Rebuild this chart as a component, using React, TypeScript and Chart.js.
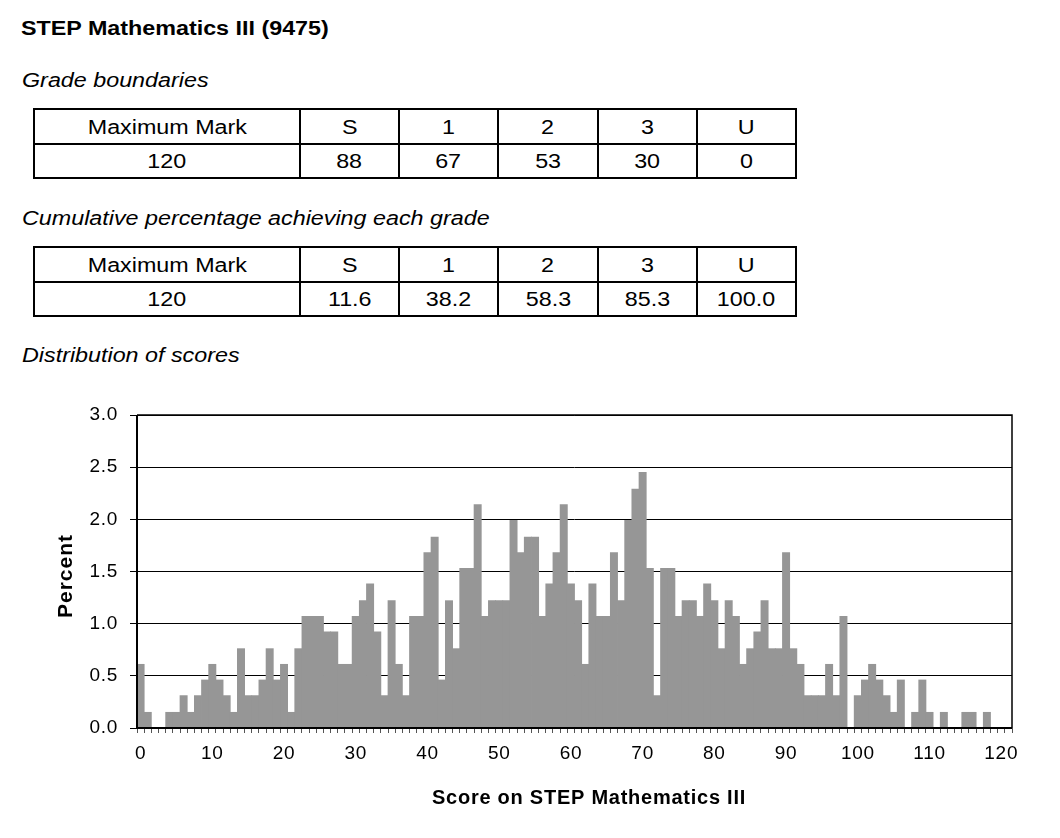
import React, { useEffect, useRef } from 'react';
import { Chart, registerables } from 'chart.js';

Chart.register(...registerables);

const FONT = '"Liberation Sans", Arial, Helvetica, sans-serif';
const STRETCH = 1.165;

const pageTitle = 'STEP Mathematics III (9475)';
const boundariesHeading = 'Grade boundaries';
const cumulativeHeading = 'Cumulative percentage achieving each grade';
const distributionHeading = 'Distribution of scores';

const gradeHeaders = ['Maximum Mark', 'S', '1', '2', '3', 'U'];
const gradeBoundaries = ['120', '88', '67', '53', '30', '0'];
const cumulativePercent = ['120', '11.6', '38.2', '58.3', '85.3', '100.0'];

// Scores 0..121 (one category per mark)
const scoreCategories = Array.from({ length: 122 }, (_, i) => String(i));

// Percent of candidates at each score
const percentOfCandidates = [
  0.61, 0.15, 0, 0, 0.15, 0.15, 0.31, 0.15, 0.31, 0.46,
  0.61, 0.46, 0.31, 0.15, 0.76, 0.31, 0.31, 0.46, 0.76, 0.46,
  0.61, 0.15, 0.76, 1.07, 1.07, 1.07, 0.92, 0.92, 0.61, 0.61,
  1.07, 1.22, 1.38, 0.92, 0.31, 1.22, 0.61, 0.31, 1.07, 1.07,
  1.68, 1.83, 0.46, 1.22, 0.76, 1.53, 1.53, 2.14, 1.07, 1.22,
  1.22, 1.22, 1.99, 1.68, 1.83, 1.83, 1.07, 1.38, 1.68, 2.14,
  1.38, 1.22, 0.61, 1.38, 1.07, 1.07, 1.68, 1.22, 1.99, 2.29,
  2.45, 1.53, 0.31, 1.53, 1.53, 1.07, 1.22, 1.22, 1.07, 1.38,
  1.22, 0.76, 1.22, 1.07, 0.61, 0.76, 0.92, 1.22, 0.76, 0.76,
  1.68, 0.76, 0.61, 0.31, 0.31, 0.31, 0.61, 0.31, 1.07, 0,
  0.31, 0.46, 0.61, 0.46, 0.31, 0.15, 0.46, 0, 0.15, 0.46,
  0.15, 0, 0.15, 0, 0, 0.15, 0.15, 0, 0.15, 0, 0, 0,
];

const xTickLabels = ['0', '10', '20', '30', '40', '50', '60', '70', '80', '90', '100', '110', '120'];
const xAxisTitle = 'Score on STEP Mathematics III';
const yAxisTitle = 'Percent';

const colEdges = [34, 300, 399, 498, 598, 697, 796];

function Heading({ text, left, top, bold, italic }: { text: string; left: number; top: number; bold?: boolean; italic?: boolean }) {
  return (
    <div
      style={{
        position: 'absolute',
        left,
        top,
        fontFamily: FONT,
        fontSize: 20,
        lineHeight: '20px',
        fontWeight: bold ? 'bold' : 'normal',
        fontStyle: italic ? 'italic' : 'normal',
        whiteSpace: 'nowrap',
        transform: `scaleX(${STRETCH})`,
        transformOrigin: '0 0',
        color: '#000',
      }}
    >
      {text}
    </div>
  );
}

function GradeTable({ rows, top }: { rows: string[][]; top: number }) {
  const rowEdges = [top, top + 35, top + 69];
  const cells: React.ReactNode[] = [];
  rows.forEach((row, r) => {
    row.forEach((txt, c) => {
      cells.push(
        <div
          key={`${r}-${c}`}
          style={{
            position: 'absolute',
            left: colEdges[c] - 1,
            top: rowEdges[r] - 1,
            width: colEdges[c + 1] - colEdges[c] + 2,
            height: rowEdges[r + 1] - rowEdges[r] + 2,
            boxSizing: 'border-box',
            border: '2px solid #000',
            display: 'flex',
            alignItems: 'center',
            justifyContent: 'center',
            fontFamily: FONT,
            fontSize: 20,
            lineHeight: '20px',
            color: '#000',
          }}
        >
          <span style={{ display: 'inline-block', transform: `scaleX(${STRETCH})`, whiteSpace: 'nowrap' }}>{txt}</span>
        </div>
      );
    });
  });
  return <>{cells}</>;
}

const framePlugin = {
  id: 'frame',
  beforeDraw(chart: any) {
    chart.ctx.letterSpacing = '0.7px';
  },
  afterDatasetsDraw(chart: any) {
    const { ctx, chartArea } = chart;
    const { left, right, top, bottom } = chartArea;
    ctx.save();
    ctx.strokeStyle = '#000';
    ctx.lineWidth = 1.5;
    ctx.beginPath();
    ctx.moveTo(left, top);
    ctx.lineTo(right, top);
    ctx.lineTo(right, bottom);
    ctx.stroke();
    ctx.lineWidth = 2;
    ctx.beginPath();
    ctx.moveTo(left, top);
    ctx.lineTo(left, bottom);
    ctx.lineTo(right, bottom);
    ctx.stroke();
    ctx.restore();
  },
  afterDraw(chart: any) {
    const { ctx } = chart;
    ctx.save();
    ctx.fillStyle = '#000';
    ctx.textAlign = 'center';
    ctx.textBaseline = 'middle';
    ctx.letterSpacing = '0.75px';
    ctx.font = `bold 20px ${FONT}`;
    ctx.fillText(xAxisTitle, 589, 413);
    ctx.translate(66, 191);
    ctx.rotate(-Math.PI / 2);
    ctx.letterSpacing = '1px';
    ctx.font = `bold 21px ${FONT}`;
    ctx.fillText(yAxisTitle, 0, 0);
    ctx.restore();
  },
};

function DistributionChart() {
  const ref = useRef<HTMLCanvasElement | null>(null);
  useEffect(() => {
    if (!ref.current) return;
    const chart = new Chart(ref.current, {
      type: 'bar',
      data: {
        labels: scoreCategories,
        datasets: [
          {
            data: percentOfCandidates,
            backgroundColor: '#969696',
            borderWidth: 0,
            barPercentage: 1,
            categoryPercentage: 1,
            inflateAmount: 0.4,
          } as any,
        ],
      },
      options: {
        responsive: false,
        animation: false,
        layout: { padding: { left: 0, right: 48, top: 30, bottom: 0 } },
        plugins: {
          legend: { display: false },
          tooltip: { enabled: false },
          title: { display: false },
        },
        scales: {
          x: {
            type: 'category',
            grid: {
              display: true,
              drawOnChartArea: false,
              drawTicks: true,
              tickLength: 5,
              color: '#555',
              lineWidth: 1,
              offset: true,
            },
            border: { display: false },
            ticks: {
              autoSkip: false,
              maxRotation: 0,
              minRotation: 0,
              padding: 9,
              color: '#000',
              font: { family: FONT, size: 19 },
              callback: (_v: any, idx: number) => {
                const l = scoreCategories[idx];
                return xTickLabels.includes(l) ? l : '';
              },
            },
            afterFit: (s: any) => {
              s.height = 107;
            },
          },
          y: {
            min: 0,
            max: 3,
            ticks: {
              stepSize: 0.5,
              padding: 12,
              color: '#000',
              font: { family: FONT, size: 19 },
              callback: (v: any) => Number(v).toFixed(1),
            },
            grid: { color: '#000', lineWidth: 1, tickLength: 7, drawTicks: true },
            border: { display: false },
            afterFit: (s: any) => {
              s.width = 137;
            },
          },
        } as any,
      },
      plugins: [framePlugin],
    });
    return () => chart.destroy();
  }, []);
  return (
    <canvas
      ref={ref}
      width={1060}
      height={450}
      style={{ position: 'absolute', left: 0, top: 385, width: 1060, height: 450, display: 'block' }}
    />
  );
}

export default function App() {
  return (
    <div style={{ position: 'absolute', left: 0, top: 0, width: 1060, height: 838, overflow: 'hidden', background: '#fff' }}>
      <Heading text={pageTitle} left={21} top={17.6} bold />
      <Heading text={boundariesHeading} left={22} top={70} italic />
      <GradeTable rows={[gradeHeaders, gradeBoundaries]} top={109} />
      <Heading text={cumulativeHeading} left={22} top={207.5} italic />
      <GradeTable rows={[gradeHeaders, cumulativePercent]} top={247} />
      <Heading text={distributionHeading} left={22} top={345} italic />
      <DistributionChart />
    </div>
  );
}
